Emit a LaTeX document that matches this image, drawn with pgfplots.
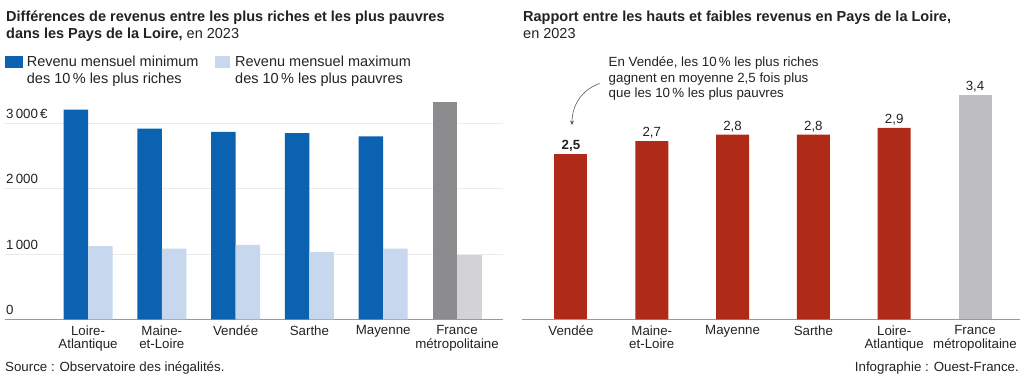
\documentclass[border=0pt]{standalone}
\usepackage{pgfplots}
\pgfplotsset{compat=1.18}
\usepackage{fontspec}
\setmainfont{Liberation Sans}
\usetikzlibrary{arrows.meta}
\definecolor{dblue}{HTML}{0A62B0}
\definecolor{lblue}{HTML}{C6D7EE}
\definecolor{dgray}{HTML}{8C8C8F}
\definecolor{lgray}{HTML}{D3D3D5}
\definecolor{rred}{HTML}{B02A18}
\definecolor{rgray}{HTML}{BEBEC0}
\definecolor{axgray}{HTML}{9A9A9A}
\definecolor{gridgray}{HTML}{EBEBEB}
\definecolor{txt}{HTML}{222222}
\newcommand\fs[2]{\fontsize{#1}{#2}\selectfont}
\begin{document}
\begin{tikzpicture}
\path[use as bounding box] (0pt,0pt) rectangle (1024pt,375pt);

% ---------- left chart ----------
\begin{axis}[
  at={(5pt,55.7pt)}, anchor=south west,
  scale only axis, width=498pt, height=222.13pt,
  xmin=-1.125, xmax=5.623, ymin=0, ymax=3400,
  axis x line*=bottom, axis y line*=left,
  x axis line style={-, draw=axgray, line width=1pt},
  y axis line style={draw=none},
  major tick length=0pt,
  ymajorgrids, major grid style={draw=gridgray, line width=0.8pt},
  ytick={0,1000,2000,3000},
  yticklabels={0,1\,000,2\,000,3\,000\,€},
  yticklabel style={anchor=south west, inner sep=0pt, xshift=1pt, yshift=4.5pt, font=\fs{13.3}{16}, text=txt},
  xtick={0,...,5},
  xticklabels={{Loire-\\Atlantique},{Maine-\\et-Loire},Vendée,Sarthe,Mayenne,{France\\métropolitaine}},
  xticklabel style={align=center, anchor=north, inner ysep=0pt, yshift=-6pt, font=\fs{13.3}{13.8}, text=txt},
  ybar, bar width=24.5pt,
  clip=false,
]
\addplot[fill=dblue, draw=none, bar shift=-12.25pt] coordinates {(0,3210) (1,2920) (2,2870) (3,2850) (4,2800)};
\addplot[fill=lblue, draw=none, bar shift=12.25pt] coordinates {(0,1120) (1,1080) (2,1140) (3,1030) (4,1080)};
\addplot[fill=dgray, draw=none, bar shift=-12.25pt] coordinates {(5,3320)};
\addplot[fill=lgray, draw=none, bar shift=12.25pt] coordinates {(5,985)};
\end{axis}

% ---------- right chart ----------
\begin{axis}[
  at={(522pt,55.7pt)}, anchor=south west,
  scale only axis, width=498pt, height=224.4pt,
  xmin=-0.606, xmax=5.557, ymin=0, ymax=3.4,
  axis x line*=bottom, axis y line*=left,
  x axis line style={-, draw=axgray, line width=1pt},
  y axis line style={draw=none},
  major tick length=0pt,
  ytick=\empty,
  xtick={0,...,5},
  xticklabels={Vendée,{Maine-\\et-Loire},Mayenne,Sarthe,{Loire-\\Atlantique},{France\\métropolitaine}},
  xticklabel style={align=center, anchor=north, inner ysep=0pt, yshift=-6pt, font=\fs{13.3}{13.8}, text=txt},
  ybar, bar width=33pt,
  clip=false,
  nodes near coords,
  nodes near coords style={anchor=south, inner ysep=0pt, yshift=2.5pt, font=\fs{13.3}{16}, text=txt},
  /pgf/number format/use comma,
  /pgf/number format/fixed,
  /pgf/number format/fixed zerofill,
  /pgf/number format/precision=1,
  /pgf/number format/assume math mode=true,
]
\addplot[fill=rred, draw=none, bar shift=0pt, nodes near coords style={font=\fs{13.3}{16}\bfseries}] coordinates {(0,2.5)};
\addplot[fill=rred, draw=none, bar shift=0pt] coordinates {(1,2.7) (2,2.8) (3,2.8) (4,2.9)};
\addplot[fill=rgray, draw=none, bar shift=0pt] coordinates {(5,3.4)};
\end{axis}

% ---------- titles ----------
\node[anchor=base west, inner sep=0, font=\fs{14.5}{16.8}\bfseries, text=txt] at (6pt,353.3pt) {Différences de revenus entre les plus riches et les plus pauvres};
\node[anchor=base west, inner sep=0, font=\fs{14.5}{16.8}, text=txt] at (6pt,336.7pt) {\textbf{dans les Pays de la Loire,} en 2023};
\node[anchor=base west, inner sep=0, font=\fs{14.5}{16.8}\bfseries, text=txt] at (523pt,353.3pt) {Rapport entre les hauts et faibles revenus en Pays de la Loire,};
\node[anchor=base west, inner sep=0, font=\fs{14.5}{16.8}, text=txt] at (523pt,336.7pt) {en 2023};

% ---------- legend ----------
\fill[dblue] (5pt,306.7pt) rectangle (23.3pt,319pt);
\fill[lblue] (215pt,306.7pt) rectangle (230pt,319pt);
\node[anchor=base west, inner sep=0, font=\fs{14.5}{16.8}, text=txt] at (26.7pt,308.3pt) {Revenu mensuel minimum};
\node[anchor=base west, inner sep=0, font=\fs{14.5}{16.8}, text=txt] at (26.7pt,291.7pt) {des 10\,\% les plus riches};
\node[anchor=base west, inner sep=0, font=\fs{14.5}{16.8}, text=txt] at (235pt,308.3pt) {Revenu mensuel maximum};
\node[anchor=base west, inner sep=0, font=\fs{14.5}{16.8}, text=txt] at (235pt,291.7pt) {des 10\,\% les plus pauvres};

% ---------- annotation ----------
\node[anchor=base west, inner sep=0, font=\fs{13.3}{16}, text=txt] at (608.5pt,308.5pt) {En Vendée, les 10\,\% les plus riches};
\node[anchor=base west, inner sep=0, font=\fs{13.3}{16}, text=txt] at (608.5pt,292.7pt) {gagnent en moyenne 2,5 fois plus};
\node[anchor=base west, inner sep=0, font=\fs{13.3}{16}, text=txt] at (608.5pt,277pt) {que les 10\,\% les plus pauvres};
\draw[draw=black!65, line width=0.6pt, -{Stealth[length=4.5pt,width=4pt]}] (599.5pt,291.5pt) to[out=200,in=90] (572pt,250pt);

% ---------- sources ----------
\node[anchor=base west, inner sep=0, font=\fs{13.3}{16}, text=txt] at (5pt,4pt) {Source : Observatoire des inégalités.};
\node[anchor=base east, inner sep=0, font=\fs{13.3}{16}, text=txt] at (1019pt,4pt) {Infographie : Ouest-France.};
\end{tikzpicture}
\end{document}
